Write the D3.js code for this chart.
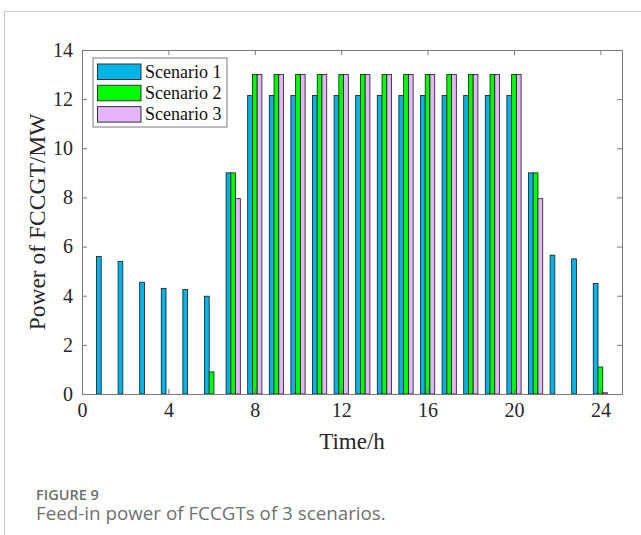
<!DOCTYPE html>
<html>
<head>
<meta charset="utf-8">
<script src="https://cdn.jsdelivr.net/npm/d3@7"></script>
<style>
  body { margin: 0; background: #fff; }
  svg { display: block; }
</style>
</head>
<body>
<div id="chart"></div>
<script>
// Data
var hours = d3.range(1, 25);
var seriesNames = ["Scenario 1", "Scenario 2", "Scenario 3"];
var scenario1 = [5.6, 5.4, 4.55, 4.3, 4.25, 3.98, 9.0, 12.15, 12.15, 12.15, 12.15, 12.15,
                 12.15, 12.15, 12.15, 12.15, 12.15, 12.15, 12.15, 12.15, 9.0, 5.65, 5.5, 4.5];
var scenario2 = [0, 0, 0, 0, 0, 0.9, 9.0, 13, 13, 13, 13, 13,
                 13, 13, 13, 13, 13, 13, 13, 13, 9.0, 0, 0, 1.1];
var scenario3 = [0, 0, 0, 0, 0, 0, 7.95, 13, 13, 13, 13, 13,
                 13, 13, 13, 13, 13, 13, 13, 13, 7.95, 0, 0, 0.05];
var xTicks = [0, 4, 8, 12, 16, 20, 24];
var yTicks = [0, 2, 4, 6, 8, 10, 12, 14];

var colors = ["#00b4e8", "#00ff00", "#e6b4fa"];
var allSeries = [scenario1, scenario2, scenario3];

// Setting parameters for the chart area
var svg_width = 641;
var svg_height = 535;
var margin = { top: 50, right: 19, bottom: 141, left: 82 };
var width = svg_width - margin.left - margin.right;
var height = svg_height - margin.top - margin.bottom;

var svg = d3.select("#chart")
    .append("svg")
    .attr("width", svg_width)
    .attr("height", svg_height);

// card border (top and left edges)
svg.append("path")
    .attr("d", "M4.5,535 V11.5 H641")
    .attr("fill", "none")
    .attr("stroke", "#c8c8c8")
    .attr("stroke-width", 1);

var chart = svg.append("g")
    .attr("transform", `translate(${margin.left}, ${margin.top})`);

var x_scale = d3.scaleLinear().domain([0, 25]).range([0, width]);
var y_scale = d3.scaleLinear().domain([0, 14]).range([height, 0]);

var slot = 0.22; // bar width in hours

// bars
allSeries.forEach(function(values, i) {
    chart.append("g")
        .selectAll("rect")
        .data(hours.map((h, k) => ({ h: h, v: values[k] })).filter(d => d.v > 0))
        .enter()
        .append("rect")
        .attr("x", d => x_scale(d.h + (i - 1.5) * slot))
        .attr("width", x_scale(slot) - x_scale(0))
        .attr("y", d => y_scale(d.v))
        .attr("height", d => y_scale(0) - y_scale(d.v))
        .attr("fill", colors[i])
        .attr("stroke", "#1a1a1a")
        .attr("stroke-width", 0.8);
});

// axes, matlab style with inward ticks and a box
var axisColor = "#7a7a7a";
var tickFont = "'Liberation Serif', 'Times New Roman', serif";

var bottom_axis = chart.append("g")
    .attr("transform", `translate(0, ${height})`)
    .call(d3.axisBottom(x_scale).tickValues(xTicks).tickSizeInner(-5).tickSizeOuter(0).tickPadding(9));
var top_axis = chart.append("g")
    .call(d3.axisTop(x_scale).tickValues(xTicks).tickSizeInner(-5).tickSizeOuter(0).tickFormat(""));
var left_axis = chart.append("g")
    .call(d3.axisLeft(y_scale).tickValues(yTicks).tickSizeInner(-5).tickSizeOuter(0).tickPadding(9));
var right_axis = chart.append("g")
    .attr("transform", `translate(${width}, 0)`)
    .call(d3.axisRight(y_scale).tickValues(yTicks).tickSizeInner(-5).tickSizeOuter(0).tickFormat(""));

chart.selectAll(".domain").attr("stroke", axisColor);
chart.selectAll(".tick line").attr("stroke", axisColor);
chart.selectAll(".tick text")
    .attr("fill", "#262626")
    .style("font-family", tickFont)
    .style("font-size", "20px");

// axis labels
chart.append("text")
    .attr("x", width / 2)
    .attr("y", height + 55)
    .attr("text-anchor", "middle")
    .style("font-family", tickFont)
    .style("font-size", "23px")
    .attr("fill", "#262626")
    .text("Time/h");

chart.append("text")
    .attr("transform", `translate(-37, ${height / 2}) rotate(-90)`)
    .attr("text-anchor", "middle")
    .style("font-family", tickFont)
    .style("font-size", "23.5px")
    .attr("fill", "#262626")
    .text("Power of FCCGT/MW");

// legend
var legend = chart.append("g")
    .attr("transform", "translate(11, 8)");

legend.append("rect")
    .attr("width", 134)
    .attr("height", 69)
    .attr("fill", "#fff")
    .attr("stroke", axisColor);

seriesNames.forEach(function(name, i) {
    legend.append("rect")
        .attr("x", 4.5)
        .attr("y", 6 + i * 21.3)
        .attr("width", 43.5)
        .attr("height", 15.5)
        .attr("fill", colors[i])
        .attr("stroke", "#333");
    legend.append("text")
        .attr("x", 52)
        .attr("y", 19.5 + i * 21.3)
        .style("font-family", tickFont)
        .style("font-size", "18px")
        .attr("fill", "#111")
        .text(name);
});

// caption
svg.append("text")
    .attr("x", 36)
    .attr("y", 500)
    .style("font-family", "'Open Sans', 'Noto Sans', sans-serif")
    .style("font-size", "14.5px")
    .style("font-weight", "600")
    .attr("fill", "#6e6e6e")
    .text("FIGURE 9");

svg.append("text")
    .attr("x", 36)
    .attr("y", 520)
    .style("font-family", "'Open Sans', 'Noto Sans', sans-serif")
    .style("font-size", "18.8px")
    .attr("fill", "#707070")
    .text("Feed-in power of FCCGTs of 3 scenarios.");
</script>
</body>
</html>
